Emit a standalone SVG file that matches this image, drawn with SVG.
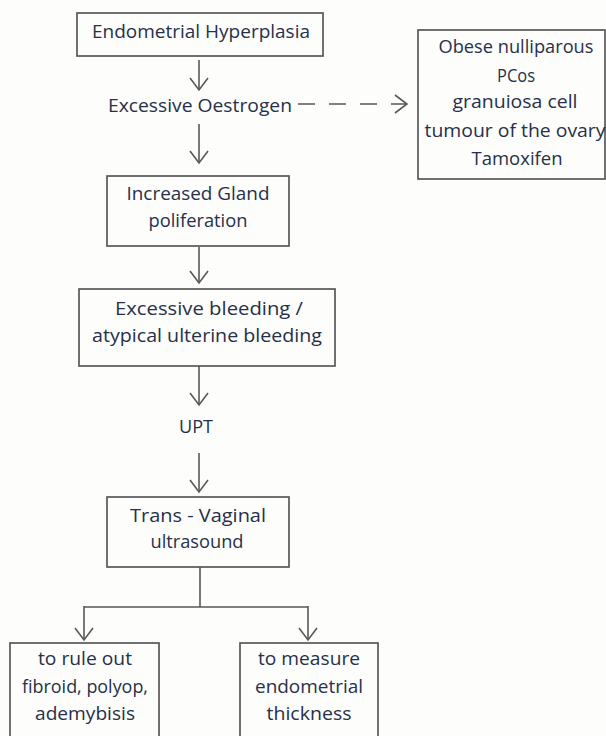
<svg xmlns="http://www.w3.org/2000/svg" width="606" height="736" viewBox="0 0 606 736">
  <style>
    .box { fill: none; stroke: #585858; stroke-width: 1.7; }
    .line { fill: none; stroke: #585858; stroke-width: 1.6; }
    .dash { stroke-dasharray: 17 14; }
    .t { font-family: "Open Sans", "Liberation Sans", sans-serif; font-size: 18px; fill: #26304a; text-anchor: middle; }
  </style>
  <defs>
    <marker id="chev" viewBox="-14 -11 16 22" refX="0" refY="0" markerWidth="16" markerHeight="22" markerUnits="userSpaceOnUse" orient="auto">
      <path d="M -12,-9 L 0,0 L -12,9" fill="none" stroke="#585858" stroke-width="1.6"/>
    </marker>
  </defs>

  <rect width="606" height="736" fill="#fdfdfc"/>

  <!-- connectors -->
  <g id="connectors">
    <path class="line" d="M 199,60 L 199,90" marker-end="url(#chev)"/>
    <path class="line dash" d="M 298,104 L 407,104" marker-end="url(#chev)"/>
    <path class="line" d="M 199,124 L 199,163" marker-end="url(#chev)"/>
    <path class="line" d="M 199,247 L 199,283" marker-end="url(#chev)"/>
    <path class="line" d="M 199,366 L 199,405" marker-end="url(#chev)"/>
    <path class="line" d="M 199,453 L 199,492" marker-end="url(#chev)"/>
    <path class="line" d="M 200,567 L 200,607 M 84,607 L 308,607"/>
    <path class="line" d="M 84,606 L 84,640" marker-end="url(#chev)"/>
    <path class="line" d="M 308,606 L 308,640" marker-end="url(#chev)"/>
  </g>

  <g id="hyperplasia">
    <rect class="box" x="77" y="13" width="246" height="43"/>
    <text class="t" x="201" y="38" textLength="218" lengthAdjust="spacingAndGlyphs">Endometrial Hyperplasia</text>
  </g>

  <g id="oestrogen">
    <text class="t" x="200" y="112" textLength="184" lengthAdjust="spacingAndGlyphs">Excessive Oestrogen</text>
  </g>

  <g id="causes">
    <rect class="box" x="418" y="30" width="187" height="149"/>
    <text class="t" x="516" y="53" textLength="155" lengthAdjust="spacingAndGlyphs">Obese nulliparous</text>
    <text class="t" x="516" y="82" textLength="38" lengthAdjust="spacingAndGlyphs">PCos</text>
    <text class="t" x="515" y="108" textLength="125" lengthAdjust="spacingAndGlyphs">granuiosa cell</text>
    <text class="t" x="515" y="137" textLength="181" lengthAdjust="spacingAndGlyphs">tumour of the ovary</text>
    <text class="t" x="517" y="165" textLength="91" lengthAdjust="spacingAndGlyphs">Tamoxifen</text>
  </g>

  <g id="gland">
    <rect class="box" x="107" y="176" width="182" height="70"/>
    <text class="t" x="198" y="200" textLength="143" lengthAdjust="spacingAndGlyphs">Increased Gland</text>
    <text class="t" x="198" y="227" textLength="99" lengthAdjust="spacingAndGlyphs">poliferation</text>
  </g>

  <g id="bleeding">
    <rect class="box" x="79" y="289" width="256" height="77"/>
    <text class="t" x="209" y="315" textLength="188" lengthAdjust="spacingAndGlyphs">Excessive bleeding /</text>
    <text class="t" x="207" y="342" textLength="230" lengthAdjust="spacingAndGlyphs">atypical ulterine bleeding</text>
  </g>

  <g id="upt">
    <text class="t" x="196" y="433" textLength="34" lengthAdjust="spacingAndGlyphs">UPT</text>
  </g>

  <g id="ultrasound">
    <rect class="box" x="107" y="497" width="182" height="70"/>
    <text class="t" x="198" y="522" textLength="136" lengthAdjust="spacingAndGlyphs">Trans - Vaginal</text>
    <text class="t" x="197" y="548" textLength="93" lengthAdjust="spacingAndGlyphs">ultrasound</text>
  </g>

  <g id="rule-out">
    <rect class="box" x="10" y="643" width="149" height="110"/>
    <text class="t" x="85" y="665" textLength="94" lengthAdjust="spacingAndGlyphs">to rule out</text>
    <text class="t" x="85" y="693" textLength="126" lengthAdjust="spacingAndGlyphs">fibroid, polyop,</text>
    <text class="t" x="85" y="720" textLength="100" lengthAdjust="spacingAndGlyphs">ademybisis</text>
  </g>

  <g id="thickness">
    <rect class="box" x="240" y="643" width="138" height="110"/>
    <text class="t" x="309" y="665" textLength="102" lengthAdjust="spacingAndGlyphs">to measure</text>
    <text class="t" x="309" y="693" textLength="108" lengthAdjust="spacingAndGlyphs">endometrial</text>
    <text class="t" x="309" y="720" textLength="85" lengthAdjust="spacingAndGlyphs">thickness</text>
  </g>
</svg>
